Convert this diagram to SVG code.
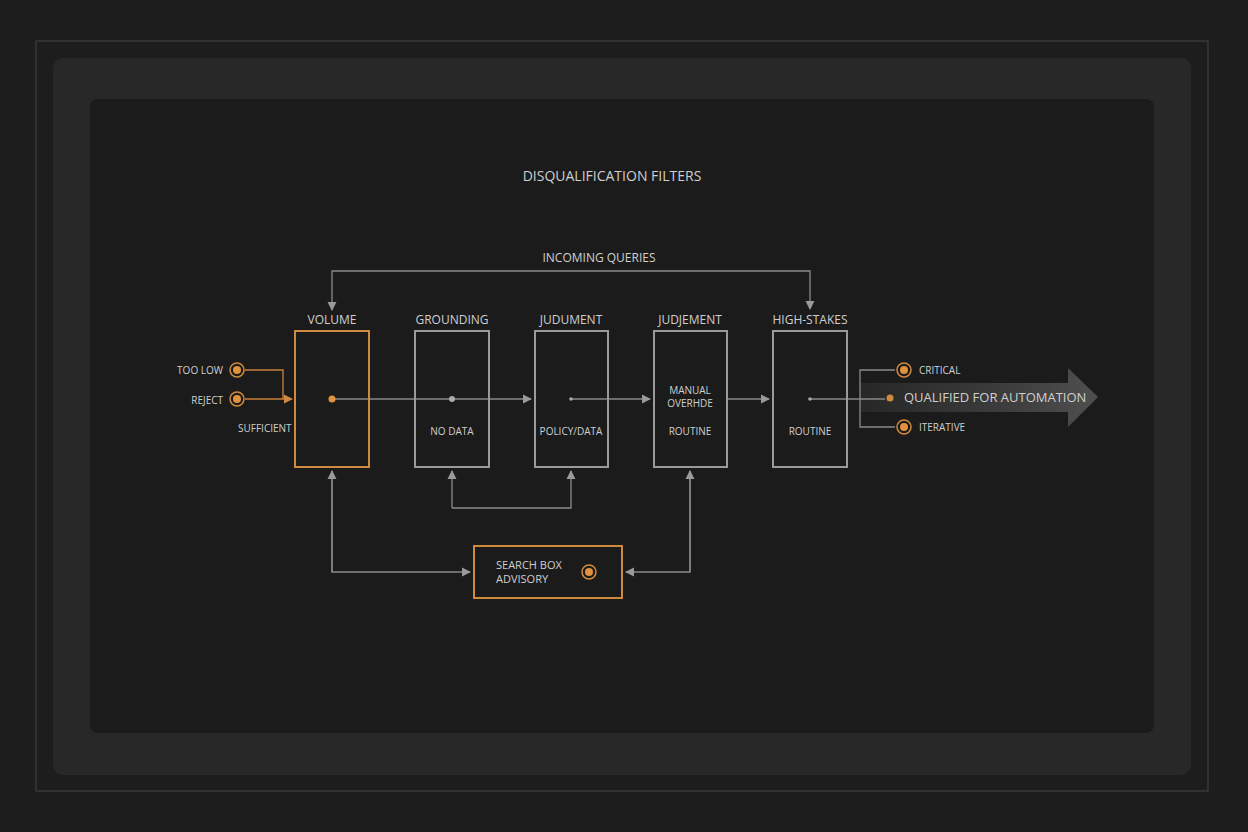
<svg xmlns="http://www.w3.org/2000/svg" width="1248" height="832" viewBox="0 0 1248 832">
<defs>
<style>
text{font-family:"Open Sans","Liberation Sans",sans-serif;fill:#cfcfcf}
.t{font-size:12px;text-anchor:middle}
.s{font-size:10px}
.box{fill:none;stroke:#9a9a9a;stroke-width:2}
.ob{fill:none;stroke:#d08a3e;stroke-width:2}
.ln{fill:none;stroke:#8a8a8a;stroke-width:1.3}
.ol{fill:none;stroke:#c9813a;stroke-width:1.3}
</style>
<marker id="a" viewBox="0 0 10 10" refX="9" refY="5" markerWidth="7" markerHeight="7" orient="auto"><path d="M0,0L10,5L0,10z" fill="#9a9a9a"/></marker>
<marker id="ao" viewBox="0 0 10 10" refX="9" refY="5" markerWidth="7" markerHeight="7" orient="auto"><path d="M0,0L10,5L0,10z" fill="#d08a3e"/></marker>
<linearGradient id="g" x1="0" x2="1"><stop offset="0" stop-color="#444" stop-opacity="0.3"/><stop offset="1" stop-color="#555" stop-opacity="0.9"/></linearGradient>
</defs>
<rect width="1248" height="832" fill="#1d1d1d"/>
<rect x="36" y="41" width="1172" height="750" fill="none" stroke="#444"/>
<rect x="53" y="58" width="1138" height="717" rx="10" fill="#282828"/>
<rect x="90" y="99" width="1064" height="634" rx="8" fill="#1b1b1b"/>
<text x="612" y="181" class="t" style="font-size:14px">DISQUALIFICATION FILTERS</text>
<text x="599" y="262" class="t">INCOMING QUERIES</text>
<path d="M860,383H1068V368L1098,397L1068,427V412H860Z" fill="url(#g)"/>
<g id="connectors">
<path class="ln" d="M332,309V271H810V309" marker-end="url(#a)"/>
<path class="ln" d="M332,309V310" marker-end="url(#a)"/>
<path class="ol" d="M245,370H283V399"/><path class="ol" d="M245,399H292" marker-end="url(#ao)"/>
<path class="ln" d="M332,399H531" marker-end="url(#a)"/>
<path class="ln" d="M571,399H650" marker-end="url(#a)"/>
<path class="ln" d="M728,399H769" marker-end="url(#a)"/>
<path class="ln" d="M810,399H885"/>
<path class="ln" d="M895,370H860V427H895"/>
<path class="ln" d="M452,508V471" marker-end="url(#a)"/>
<path class="ln" d="M452,508H571V471" marker-end="url(#a)"/>
<path class="ln" d="M332,471V572H470" marker-end="url(#a)"/>
<path class="ln" d="M332,572V471" marker-end="url(#a)"/>
<path class="ln" d="M690,471V572H626" marker-end="url(#a)"/>
<path class="ln" d="M690,572V471" marker-end="url(#a)"/>
</g>
<g id="volume"><rect class="ob" x="295" y="331" width="74" height="136"/><text x="332" y="324" class="t">VOLUME</text><circle cx="332" cy="399" r="3.5" fill="#e0923f"/></g>
<g id="grounding"><rect class="box" x="415" y="331" width="74" height="136"/><text x="452" y="324" class="t">GROUNDING</text><circle cx="452" cy="399" r="3" fill="#aaa"/><text x="452" y="435" class="t s">NO DATA</text></g>
<g id="judument"><rect class="box" x="535" y="331" width="73" height="136"/><text x="571" y="324" class="t">JUDUMENT</text><circle cx="571" cy="399" r="1.8" fill="#aaa"/><text x="571" y="435" class="t s">POLICY/DATA</text></g>
<g id="judgement"><rect class="box" x="654" y="331" width="73" height="136"/><text x="690" y="324" class="t">JUDJEMENT</text><text x="690" y="394" class="t s">MANUAL</text><text x="690" y="407" class="t s">OVERHDE</text><text x="690" y="435" class="t s">ROUTINE</text></g>
<g id="highstakes"><rect class="box" x="773" y="331" width="74" height="136"/><text x="810" y="324" class="t">HIGH-STAKES</text><circle cx="810" cy="399" r="1.8" fill="#aaa"/><text x="810" y="435" class="t s">ROUTINE</text></g>
<g id="inputs">
<circle cx="237" cy="370" r="7" fill="none" stroke="#d08a3e" stroke-width="1.5"/><circle cx="237" cy="370" r="4" fill="#e0923f"/>
<circle cx="237" cy="399" r="7" fill="none" stroke="#d08a3e" stroke-width="1.5"/><circle cx="237" cy="399" r="4" fill="#e0923f"/>
<text x="223" y="374" class="s" text-anchor="end">TOO LOW</text>
<text x="223" y="404" class="s" text-anchor="end">REJECT</text>
<text x="238" y="432" class="s">SUFFICIENT</text>
</g>
<g id="outputs">
<circle cx="904" cy="370" r="7" fill="none" stroke="#d08a3e" stroke-width="1.5"/><circle cx="904" cy="370" r="4" fill="#e0923f"/>
<circle cx="904" cy="427" r="7" fill="none" stroke="#d08a3e" stroke-width="1.5"/><circle cx="904" cy="427" r="4" fill="#e0923f"/>
<circle cx="890" cy="398" r="3.5" fill="#d08a3e"/>
<text x="919" y="374" class="s">CRITICAL</text>
<text x="919" y="431" class="s">ITERATIVE</text>
<text x="904" y="402" style="font-size:13px">QUALIFIED FOR AUTOMATION</text>
</g>
<g id="searchbox"><rect class="ob" x="474" y="546" width="148" height="52"/><text x="496" y="569" style="font-size:11px">SEARCH BOX</text><text x="496" y="583" style="font-size:11px">ADVISORY</text>
<circle cx="589" cy="572" r="7" fill="none" stroke="#d08a3e" stroke-width="1.5"/><circle cx="589" cy="572" r="4" fill="#e0923f"/></g>
</svg>
